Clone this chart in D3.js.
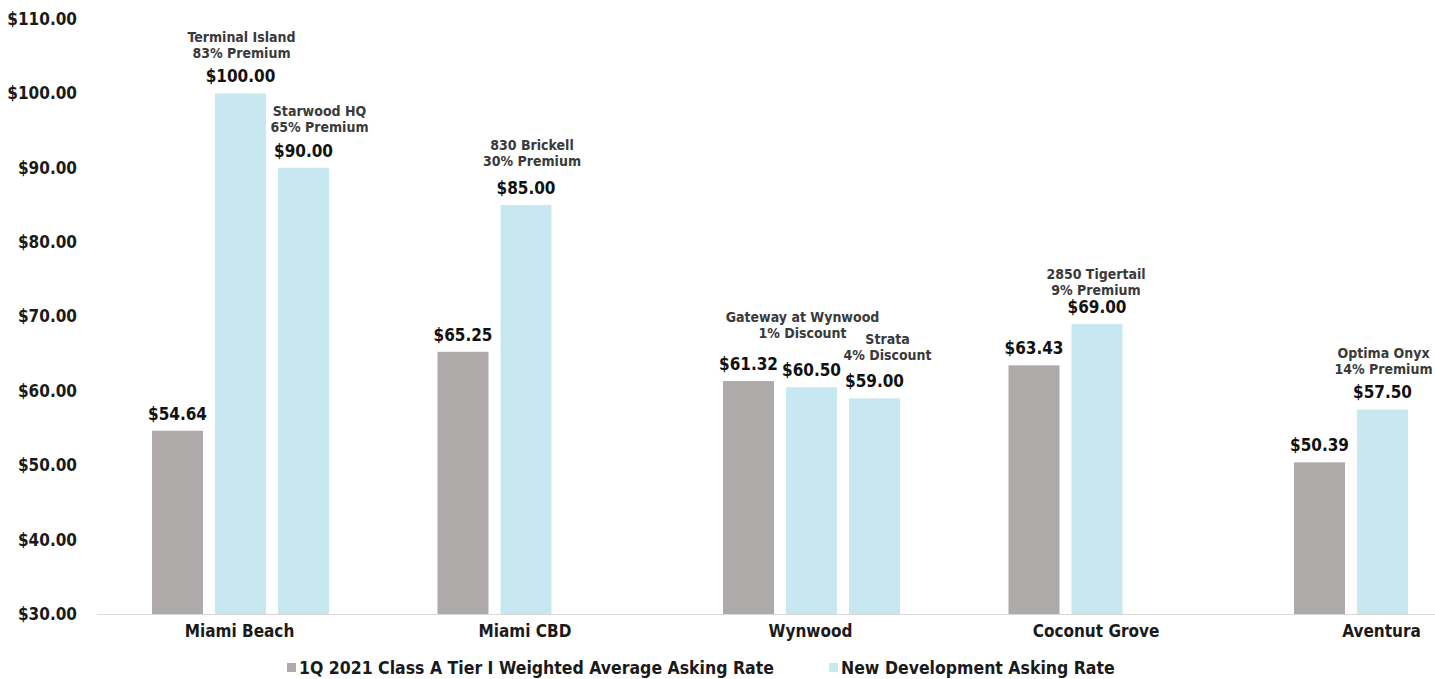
<!DOCTYPE html>
<html>
<head>
<meta charset="utf-8">
<script src="https://cdn.jsdelivr.net/npm/d3@7"></script>
<style>
  html, body { margin: 0; padding: 0; background: #fff; }
  svg { display: block; }
  text { font-family: "DejaVu Sans Condensed", "DejaVu Sans", sans-serif; }
</style>
</head>
<body>
<svg id="chart" width="1435" height="679"></svg>
<script>
// ---- data ----
const categories = ["Miami Beach", "Miami CBD", "Wynwood", "Coconut Grove", "Aventura"];
const classARates = [54.64, 65.25, 61.32, 63.43, 50.39];
const newDevRates1 = [100.00, 85.00, 60.50, 69.00, 57.50];
const newDevRates2 = [90.00, null, 59.00, null, null];
const newDevNames1 = ["Terminal Island", "830 Brickell", "Gateway at Wynwood", "2850 Tigertail", "Optima Onyx"];
const newDevNotes1 = ["83% Premium", "30% Premium", "1% Discount", "9% Premium", "14% Premium"];
const newDevNames2 = ["Starwood HQ", null, "Strata", null, null];
const newDevNotes2 = ["65% Premium", null, "4% Discount", null, null];
const yTicks = [30, 40, 50, 60, 70, 80, 90, 100, 110];
const legendLabels = ["1Q 2021 Class A Tier I Weighted Average Asking Rate", "New Development Asking Rate"];

// ---- styling (annotation nudges: [dx, dy] relative to default position) ----
const colors = ["#aeaaa9", "#c8e8f1", "#c8e8f1"];
const noteNudge1 = [[1, 0], [6, -4], [-9, -14], [-1, 6], [1, 0]];
const noteNudge2 = [[16, -1], null, [13, -3], null, null];

const svg = d3.select("#chart");
const y = d3.scaleLinear().domain([30, 110]).range([614, 19]);
const x0 = d3.scaleBand().domain(categories).range([96.75, 96.75 + 5 * 285.5]).padding(0);
const x1 = d3.scaleBand().domain([0, 1, 2]).range([0, 189]).paddingInner(12 / 63).paddingOuter(6 / 63);
const innerStart = c => x0(c) + x0.bandwidth() / 2 - 93.5;

// y axis labels
const yAxis = d3.axisLeft(y).tickValues(yTicks).tickSize(0).tickPadding(0)
  .tickFormat(d => "$" + d3.format(".2f")(d));
const gy = svg.append("g").attr("transform", "translate(77,0)").call(yAxis);
gy.select(".domain").remove();
gy.selectAll("text").attr("font-size", 17).attr("font-weight", "bold").attr("fill", "#1a1a1a")
  .style("font-family", '"DejaVu Sans Condensed", "DejaVu Sans", sans-serif');

// x axis
const xAxis = d3.axisBottom(x0).tickSize(0).tickPadding(11);
const gx = svg.append("g").attr("transform", "translate(0,614)").call(xAxis);
gx.select(".domain").remove();
gx.selectAll("text").attr("font-size", 17).attr("font-weight", "bold").attr("fill", "#1a1a1a")
  .style("font-family", '"DejaVu Sans Condensed", "DejaVu Sans", sans-serif');
svg.append("line").attr("x1", 97).attr("x2", 1435).attr("y1", 614.5).attr("y2", 614.5)
  .attr("stroke", "#d9d9d9").attr("stroke-width", 1);

// bars
const series = [classARates, newDevRates1, newDevRates2];
const barData = [];
series.forEach((vals, s) => vals.forEach((v, i) => {
  if (v != null) barData.push({ s, i, v, cat: categories[i] });
}));

svg.append("g").selectAll("rect").data(barData).join("rect")
  .attr("x", d => innerStart(d.cat) + x1(d.s))
  .attr("width", x1.bandwidth())
  .attr("y", d => y(d.v))
  .attr("height", d => y(30) - y(d.v))
  .attr("fill", d => colors[d.s]);

// value labels
svg.append("g").selectAll("text").data(barData).join("text")
  .attr("x", d => innerStart(d.cat) + x1(d.s) + x1.bandwidth() / 2)
  .attr("y", d => y(d.v) - 11)
  .attr("text-anchor", "middle")
  .attr("font-size", 17)
  .attr("fill", "#111")
  .attr("font-weight", "bold")
  .text(d => "$" + d3.format(".2f")(d.v));

// annotations
const notes = [];
newDevRates1.forEach((v, i) => notes.push({ s: 1, i, v, cat: categories[i], name: newDevNames1[i], note: newDevNotes1[i], nudge: noteNudge1[i] }));
newDevRates2.forEach((v, i) => { if (v != null) notes.push({ s: 2, i, v, cat: categories[i], name: newDevNames2[i], note: newDevNotes2[i], nudge: noteNudge2[i] }); });

const ng = svg.append("g").selectAll("text").data(notes).join("text")
  .attr("text-anchor", "middle")
  .attr("font-size", 14)
  .attr("font-weight", "bold")
  .attr("fill", "#3a3a3a")
  .attr("transform", d => `translate(${innerStart(d.cat) + x1(d.s) + x1.bandwidth() / 2 + d.nudge[0]},${y(d.v) - 35 + d.nudge[1]})`);
ng.append("tspan").attr("x", 0).attr("dy", -16).text(d => d.name);
ng.append("tspan").attr("x", 0).attr("dy", 16).text(d => d.note);

// legend
const legendX = [287, 829];
const lg = svg.append("g").selectAll("g").data(legendLabels).join("g")
  .attr("transform", (d, i) => `translate(${legendX[i]},663)`);
lg.append("rect").attr("width", 9).attr("height", 9).attr("fill", (d, i) => colors[i]);
lg.append("text").attr("x", 12).attr("y", 11).attr("font-size", 17.5).attr("font-weight", "bold")
  .attr("fill", "#1a1a1a").text(d => d);
</script>
</body>
</html>
